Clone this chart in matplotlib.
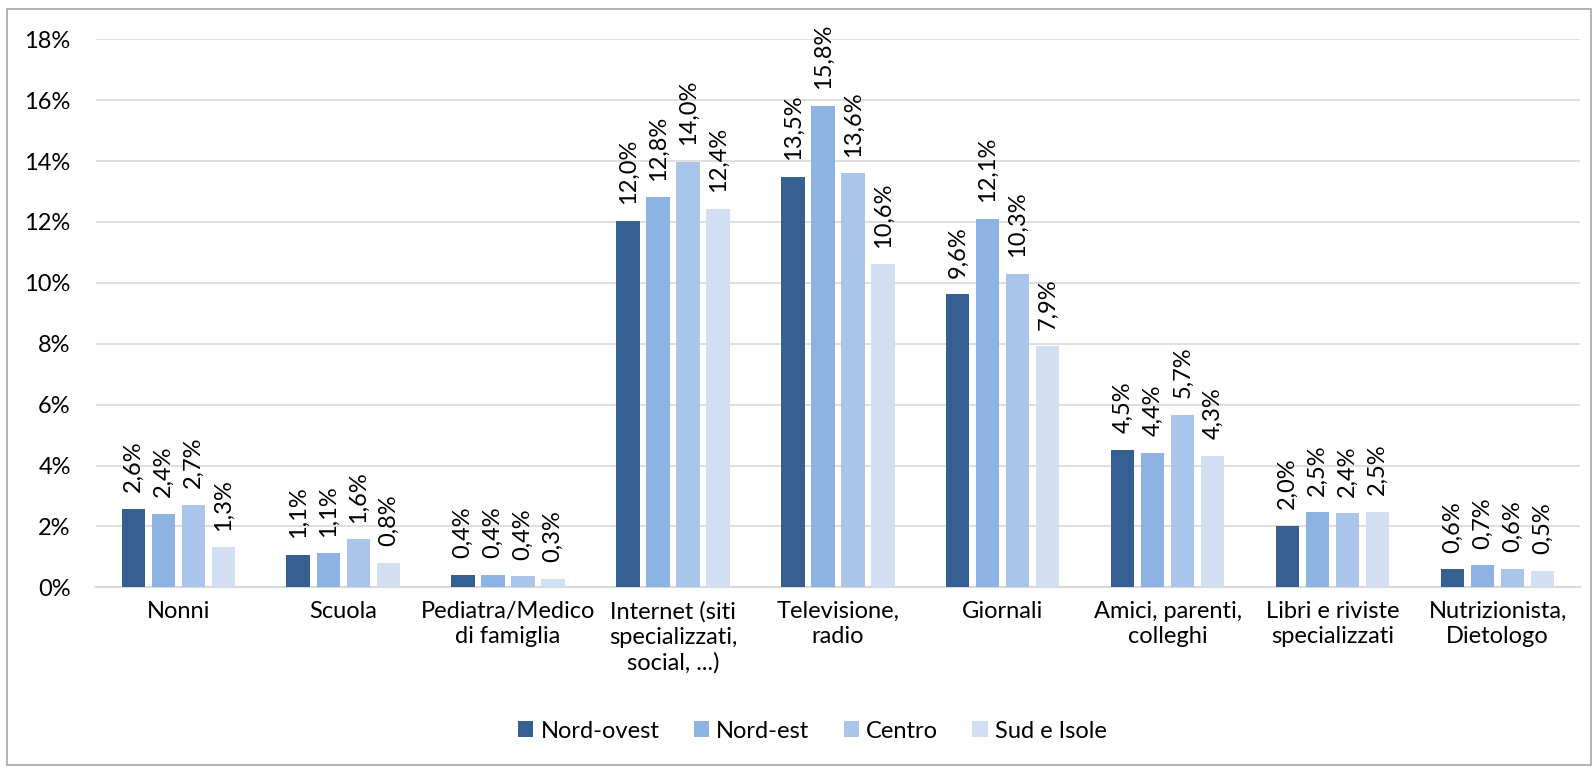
import matplotlib.pyplot as plt
import numpy as np
from matplotlib.patches import Rectangle

# categories and series (values in %)
categories = ['Nonni', 'Scuola', 'Pediatra/Medico\ndi famiglia',
              'Internet (siti\nspecializzati,\nsocial, ...)', 'Televisione,\nradio',
              'Giornali', 'Amici, parenti,\ncolleghi', 'Libri e riviste\nspecializzati',
              'Nutrizionista,\nDietologo']
series_names = ['Nord-ovest', 'Nord-est', 'Centro', 'Sud e Isole']
nord_ovest = [2.57, 1.06, 0.41, 12.03, 13.48, 9.62, 4.52, 2.02, 0.59]
nord_est = [2.42, 1.12, 0.41, 12.81, 15.81, 12.10, 4.42, 2.46, 0.72]
centro = [2.70, 1.57, 0.36, 13.97, 13.60, 10.30, 5.67, 2.43, 0.60]
sud_isole = [1.31, 0.80, 0.27, 12.43, 10.61, 7.92, 4.31, 2.48, 0.53]
colors = ['#376092', '#8DB3E2', '#AAC5EA', '#D2DFF2']

plt.rcParams['font.family'] = ['Lato', 'DejaVu Sans']
fs = 17

fig = plt.figure(figsize=(15.96, 7.68), dpi=100)
ax = fig.add_axes([0.06, 0.2353, 0.93, 0.7135])

x = np.arange(len(categories))
step = 0.182
width = 0.141
all_series = [nord_ovest, nord_est, centro, sud_isole]

for i, vals in enumerate(all_series):
    pos = x + (i - 1.5) * step
    ax.bar(pos, vals, width, color=colors[i], label=series_names[i], zorder=3)
    for px, v in zip(pos, vals):
        lab = ('%.1f' % v).replace('.', ',') + '%'
        ax.annotate(lab, (px, v), xytext=(0, 12), textcoords='offset points',
                    rotation=90, ha='center', va='bottom', fontsize=fs,
                    color='#000000')

ax.set_xlim(-0.5, len(categories) - 0.5)
ax.set_ylim(0, 18)
ax.set_yticks(np.arange(0, 19, 2))
ax.set_yticklabels(['%d%%' % t for t in range(0, 19, 2)])
ax.set_xticks(x)
ax.set_xticklabels(categories, linespacing=1.25)
ax.tick_params(axis='both', length=0, labelsize=fs, colors='#000000')
ax.tick_params(axis='y', pad=18)
ax.tick_params(axis='x', pad=10)
ax.grid(axis='y', color='#D9D9D9', linewidth=1.2, zorder=0)
for s in ['top', 'right', 'left']:
    ax.spines[s].set_visible(False)
ax.spines['bottom'].set_color('#D9D9D9')
ax.spines['bottom'].set_linewidth(1.5)

fig.legend(loc='center', bbox_to_anchor=(0.509, 0.048), ncol=4, frameon=False,
           fontsize=fs, handlelength=0.65, handleheight=0.65, handletextpad=0.3,
           columnspacing=1.45)

# chart border
fig.patches.append(Rectangle((7 / 1596, 3 / 768), 1584 / 1596, 756 / 768,
                             transform=fig.transFigure, fill=False,
                             edgecolor='#A6A6A6', linewidth=1.2))

fig.savefig('out.png', dpi=100)
